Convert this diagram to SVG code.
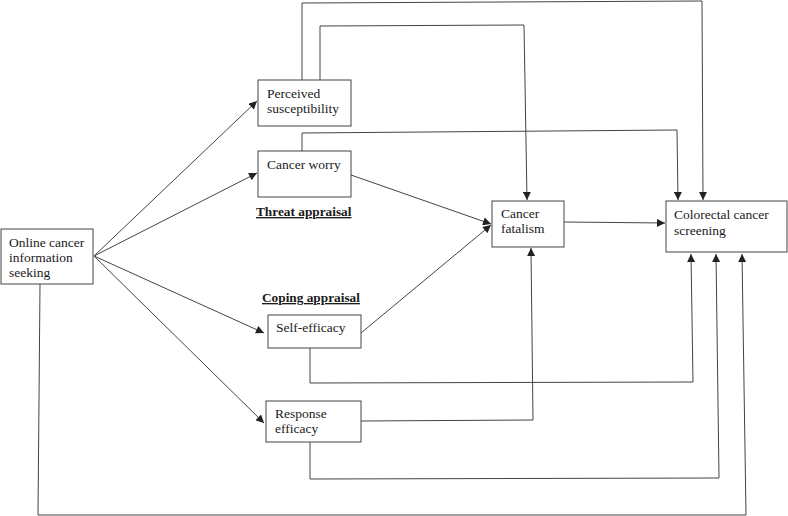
<svg xmlns="http://www.w3.org/2000/svg" width="788" height="516" viewBox="0 0 788 516">
<style>
.box{fill:#fff;stroke:#444;stroke-width:1}
.t{font-family:"Liberation Serif","Times New Roman",serif;font-size:13.5px;fill:#1a1a1a}
.h{font-family:"Liberation Serif","Times New Roman",serif;font-size:13.3px;font-weight:bold;fill:#1a1a1a;text-decoration:underline}
.c{fill:none;stroke:#444;stroke-width:1}
</style>
<defs>
<marker id="a" viewBox="0 0 10 10" refX="10" refY="5" markerWidth="9" markerHeight="8" markerUnits="userSpaceOnUse" orient="auto">
<path d="M0,0 L10,5 L0,10 z" fill="#222"/>
</marker>
</defs>
<g id="connectors">
<line class="c" x1="94" y1="256" x2="257" y2="101" marker-end="url(#a)"/>
<line class="c" x1="94" y1="256" x2="257" y2="173" marker-end="url(#a)"/>
<line class="c" x1="94" y1="256" x2="264" y2="333" marker-end="url(#a)"/>
<line class="c" x1="94" y1="256" x2="264" y2="423" marker-end="url(#a)"/>
<polyline class="c" points="40,284 38,515 746,515 742,254" marker-end="url(#a)"/>
<line class="c" x1="351" y1="175" x2="491" y2="224" marker-end="url(#a)"/>
<line class="c" x1="361" y1="333" x2="491" y2="225" marker-end="url(#a)"/>
<line class="c" x1="564" y1="222" x2="665" y2="223" marker-end="url(#a)"/>
<polyline class="c" points="302,80 302,3 702,1 703,200" marker-end="url(#a)"/>
<polyline class="c" points="320,80 320,26 524,25 527,200" marker-end="url(#a)"/>
<polyline class="c" points="302,151 302,133 677,130 678,200" marker-end="url(#a)"/>
<polyline class="c" points="310,348 310,383 693,382 691,254" marker-end="url(#a)"/>
<polyline class="c" points="361,421 533,420 531,248" marker-end="url(#a)"/>
<polyline class="c" points="310,442 310,479 719,478 716,254" marker-end="url(#a)"/>
</g>
<g id="online">
<rect class="box" x="1" y="229" width="92" height="55"/>
<text class="t" x="9" y="247">Online cancer</text>
<text class="t" x="9" y="262">information</text>
<text class="t" x="9" y="277">seeking</text>
</g>
<g id="perceived">
<rect class="box" x="258" y="80" width="93" height="46"/>
<text class="t" x="267" y="98">Perceived</text>
<text class="t" x="267" y="113">susceptibility</text>
</g>
<g id="worry">
<rect class="box" x="258" y="151" width="93" height="46"/>
<text class="t" x="267" y="169">Cancer worry</text>
</g>
<text class="h" x="256" y="216">Threat appraisal</text>
<text class="h" x="262" y="302">Coping appraisal</text>
<g id="selfefficacy">
<rect class="box" x="268" y="315" width="93" height="33"/>
<text class="t" x="276" y="332">Self-efficacy</text>
</g>
<g id="response">
<rect class="box" x="266" y="401" width="95" height="41"/>
<text class="t" x="275" y="418">Response</text>
<text class="t" x="275" y="433">efficacy</text>
</g>
<g id="fatalism">
<rect class="box" x="492" y="201" width="72" height="46"/>
<text class="t" x="501" y="218">Cancer</text>
<text class="t" x="501" y="233">fatalism</text>
</g>
<g id="screening">
<rect class="box" x="666" y="201" width="121" height="51"/>
<text class="t" x="674" y="219">Colorectal cancer</text>
<text class="t" x="674" y="235">screening</text>
</g>
</svg>
